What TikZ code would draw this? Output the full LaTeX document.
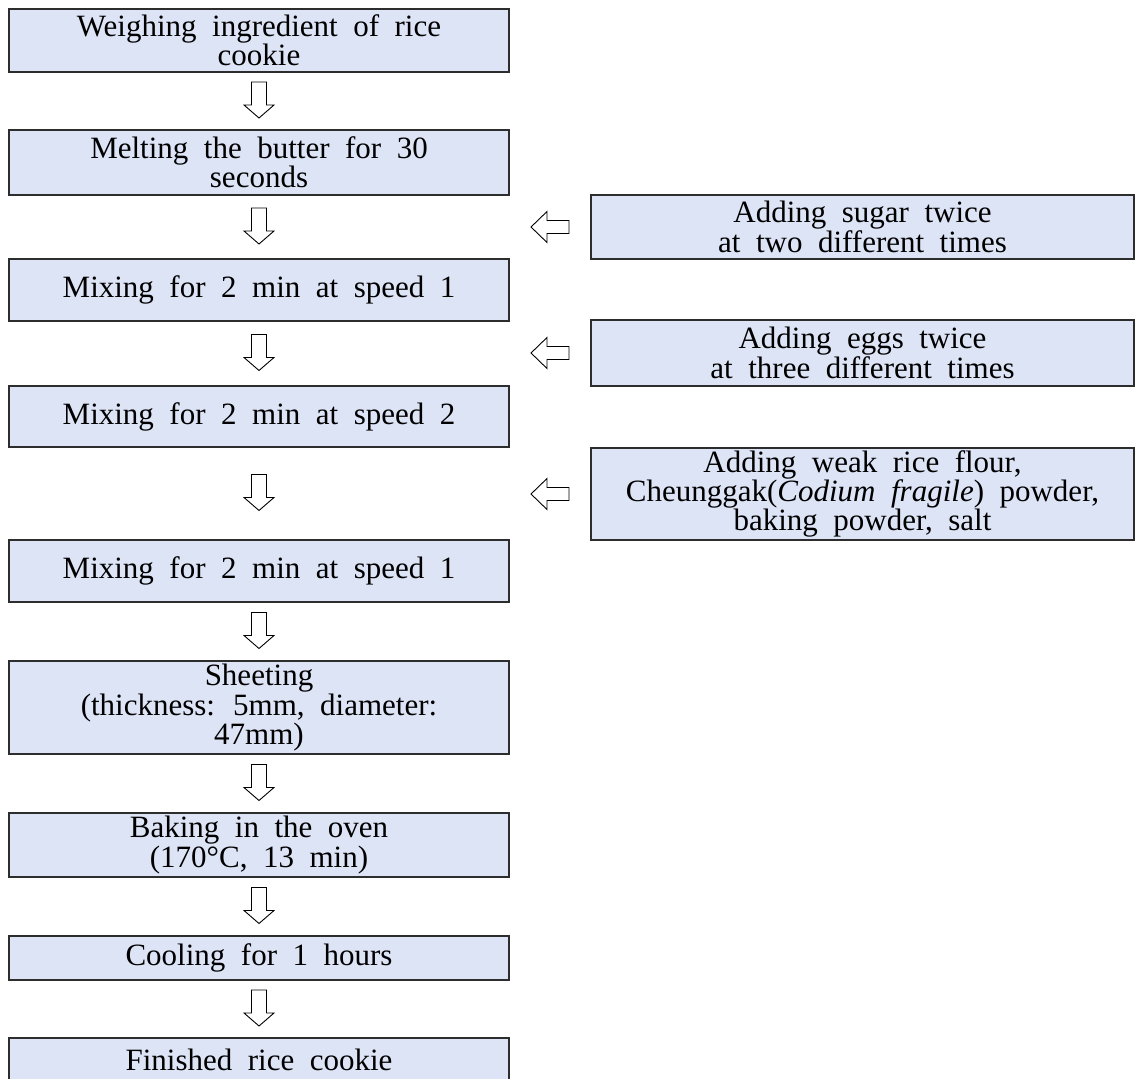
\documentclass[tikz,border=0pt]{standalone}
\usepackage{fontspec}
\setmainfont{Liberation Serif}[WordSpace=2]
\usetikzlibrary{calc}
\definecolor{boxfill}{RGB}{221,228,246}
\definecolor{boxline}{RGB}{45,45,45}
\tikzset{
  stepbox/.style={draw=boxline, line width=1.2pt, fill=boxfill, inner sep=0pt, outer sep=0pt,
    align=center, font=\fontsize{31}{27}\selectfont, minimum width=500pt},
  sidebox/.style={stepbox, minimum width=543pt},
  blockarrow/.style={draw=black, line width=0.9pt, fill=white, line join=miter},
  pics/downarr/.style={code={\draw[blockarrow] (-7.5,-18) -- (7.5,-18) -- (7.5,5) -- (15,5) -- (0,18) -- (-15,5) -- (-7.5,5) -- cycle;}},
  pics/leftarr/.style={code={\draw[blockarrow] (19,-6.5) -- (-3,-6.5) -- (-3,-15.5) -- (-19,0) -- (-3,15.5) -- (-3,6.5) -- (19,6.5) -- cycle;}}
}
\begin{document}
\begin{tikzpicture}[x=1pt,y=-1pt]
\useasboundingbox (0,0) rectangle (1139,1078);
\clip (0,0) rectangle (1139,1078);
% main column
\node[stepbox, minimum height=63pt] (b1) at (259,40.5) {Weighing ingredient of rice\\cookie};
\node[stepbox, minimum height=65pt] (b2) at (259,162.5) {Melting the butter for 30\\seconds};
\node[stepbox, minimum height=62pt] (b3) at (259,290) {Mixing for 2 min at speed 1};
\node[stepbox, minimum height=61pt] (b4) at (259,416.5) {Mixing for 2 min at speed 2};
\node[stepbox, minimum height=62pt] (b5) at (259,571) {Mixing for 2 min at speed 1};
\node[stepbox, minimum height=93pt] (b6) at (259,707.5) {Sheeting\\(thickness: 5mm, diameter:\\47mm)};
\node[stepbox, minimum height=64pt] (b7) at (259,845) {Baking in the oven\\(170°C, 13 min)};
\node[stepbox, minimum height=44pt] (b8) at (259,958) {Cooling for 1 hours};
\node[stepbox, minimum height=44pt] (b9) at (259,1060) {Finished rice cookie};
% side column
\node[sidebox, minimum height=64pt] (r1) at (862.5,227) {Adding sugar twice\\at two different times};
\node[sidebox, minimum height=66pt] (r2) at (862.5,353) {Adding eggs twice\\at three different times};
\node[sidebox, minimum height=92pt] (r3) at (862.5,494) {Adding weak rice flour,\\Cheunggak(\textit{Codium fragile}) powder,\\baking powder, salt};
% down arrows
\pic at ($(b1.south)!0.5!(b2.north)+(0,-1)$) {downarr};
\pic at ($(b2.south)!0.5!(b3.north)+(0,-1)$) {downarr};
\pic at ($(b3.south)!0.5!(b4.north)+(0,-1)$) {downarr};
\pic at ($(b4.south)!0.5!(b5.north)+(0,-1)$) {downarr};
\pic at ($(b5.south)!0.5!(b6.north)+(0,-1)$) {downarr};
\pic at ($(b6.south)!0.5!(b7.north)+(0,-1)$) {downarr};
\pic at ($(b7.south)!0.5!(b8.north)+(0,-1)$) {downarr};
\pic at ($(b8.south)!0.5!(b9.north)+(0,-1)$) {downarr};
% side arrows
\pic at ($(r1.west)+(-41,0)$) {leftarr};
\pic at ($(r2.west)+(-41,0)$) {leftarr};
\pic at ($(r3.west)+(-41,0)$) {leftarr};
\end{tikzpicture}
\end{document}
